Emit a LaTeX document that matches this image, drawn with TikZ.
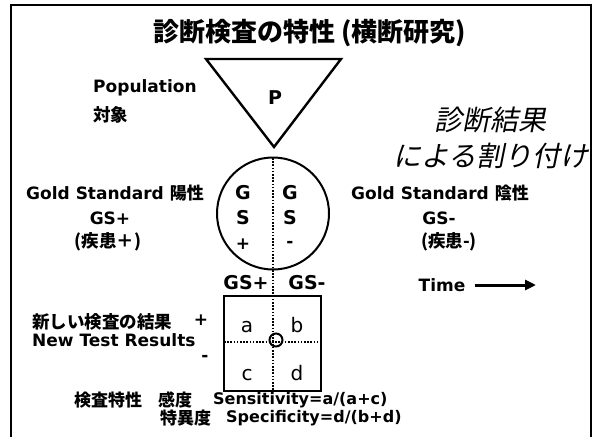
\documentclass[tikz,border=0pt]{standalone}
\usepackage{fontspec}
\usetikzlibrary{arrows.meta}
\newfontfamily\latf{DejaVu Sans}
\newfontfamily\cjkf{Noto Sans CJK JP}
\newfontfamily\cjkit[FakeSlant=0.2]{Noto Sans CJK JP}
\begin{document}
\begin{tikzpicture}[x=1pt,y=-1pt,
  lat/.style={inner sep=0pt, font=\latf\bfseries\fontsize{17}{20}\selectfont},
  big/.style={inner sep=0pt, font=\latf\bfseries\fontsize{19}{21}\selectfont},
  jp/.style={inner sep=0pt, font=\cjkf\bfseries\fontsize{17.5}{20}\selectfont},
  small/.style={inner sep=0pt, font=\latf\bfseries\fontsize{16}{18}\selectfont},
  smalljp/.style={inner sep=0pt, font=\cjkf\bfseries\fontsize{17}{18}\selectfont},
  itj/.style={inner sep=0pt, font=\cjkit\fontsize{28}{30}\selectfont},
  cell/.style={inner sep=0pt, font=\latf\fontsize{20}{22}\selectfont},
  frame/.style={line width=2.6pt},
  thickline/.style={line width=2.4pt, line join=miter},
  dotline/.style={line width=1.6pt, dash pattern=on 1.6pt off 1.6pt}]
\useasboundingbox (0,0) rectangle (593,436);
% frame
\draw[frame] (11,437) -- (11,5) -- (591,5) -- (591,437);
% title
\node[jp, font=\cjkf\bfseries\fontsize{26}{28}\selectfont] (title) at (310,33) {診断検査の特性 (横断研究)};
% population triangle
\draw[thickline] (206,59) -- (341,59) -- (274,147) -- cycle;
\node[big] (P) at (275,98) {P};
\node[lat, anchor=west] (pop) at (93,88) {Population};
\node[jp, anchor=west] (popjp) at (93,115) {対象};
% italic label
\node[itj, anchor=west] (shindan) at (434,120) {診断結果};
\node[itj, anchor=east] (wari) at (589,156) {による割り付け};
% circle
\draw[line width=2pt] (273,213.5) circle[radius=56pt];
\draw[dotline] (273,158) -- (273,391);
\node[big] (gl) at (243,193) {G};
\node[big] (sl) at (243,218) {S};
\node[lat] (pl) at (243,244) {+};
\node[big] (gr) at (290,193) {G};
\node[big] (sr) at (290,218) {S};
\node[lat] (mr) at (290,244) {-};
% side labels
\node[lat] (gsl) at (115,193) {Gold Standard {\cjkf 陽性}};
\node[lat] (gsp) at (110,218) {GS+};
\node[jp] (disp) at (108,242) {(疾患＋)};
\node[lat] (gsr) at (440,193) {Gold Standard {\cjkf 陰性}};
\node[lat] (gsm) at (439,218) {GS-};
\node[jp] (dism) at (449,242) {(疾患-)};
% time arrow
\node[lat] (time) at (442,285) {Time};
\coordinate (tend) at (536,285);
\draw[line width=3pt, -{Triangle[length=11pt,width=10pt]}] ([xshift=9pt]time.east) -- (tend);
% 2x2 table
\node[big] (colp) at (246,283) {GS+};
\node[big] (colm) at (307,283) {GS-};
\draw[line width=2.5pt] (224,296) rectangle (321,391);
\draw[dotline] (224,342) -- (321,342);
\node[cell] (a) at (247,327) {a};
\node[cell] (b) at (297,325) {b};
\node[cell] (c) at (247,375) {c};
\node[cell] (d) at (297,373) {d};
\node[circle, draw, line width=2pt, minimum size=13pt, inner sep=0pt] (o) at (276,340) {};
% row labels
\node[jp, anchor=west] (newjp) at (32,322) {新しい検査の結果};
\node[lat] (rowp) at (201,320) {+};
\node[lat, anchor=west] (newen) at (32,340) {New Test Results};
\node[lat] (rowm) at (205,358) {-};
% bottom formulas
\node[smalljp, anchor=west] (kensa) at (74,400) {検査特性};
\node[smalljp, anchor=west] (kando) at (158,400) {感度};
\node[small, anchor=west] (sens) at (213,400) {Sensitivity=a/(a+c)};
\node[smalljp, anchor=west] (tokui) at (160,418) {特異度};
\node[small, anchor=west] (spec) at (226,418) {Specificity=d/(b+d)};
\end{tikzpicture}
\end{document}
